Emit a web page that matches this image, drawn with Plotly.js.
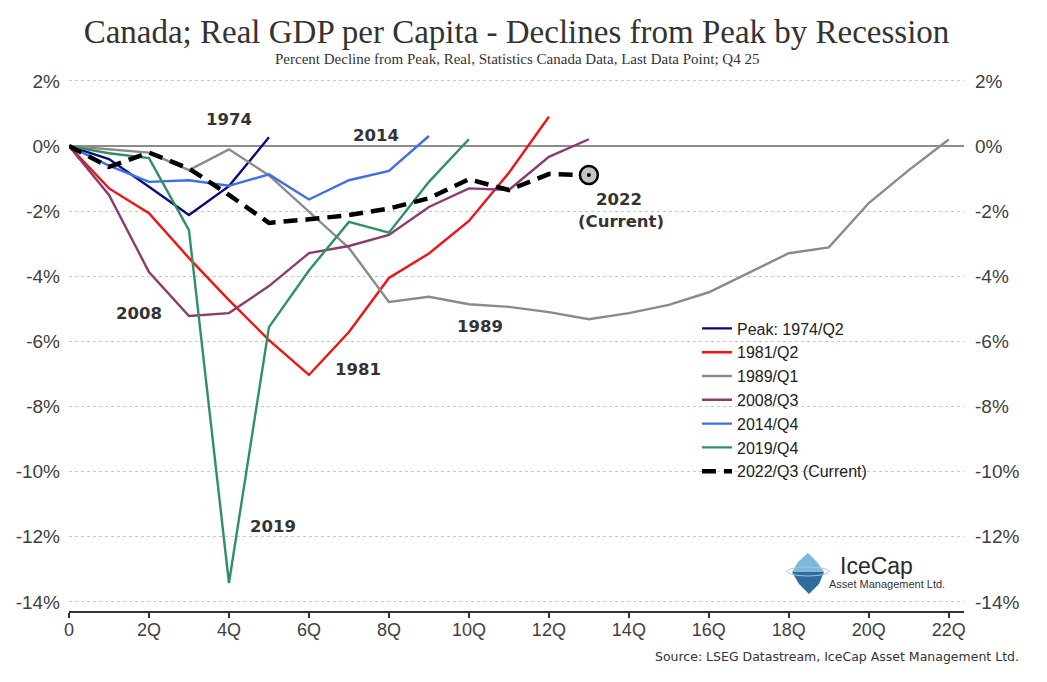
<!DOCTYPE html>
<html><head><meta charset="utf-8">
<script src="https://cdn.plot.ly/plotly-3.0.1.min.js"></script>
<style>html,body{margin:0;padding:0;background:#fff}#chart{width:1047px;height:682px}</style>
</head><body><div id="chart"></div>
<script>
// ---- data (quarters after peak, % decline from peak) ----
const quarters = [0,1,2,3,4,5,6,7,8,9,10,11,12,13,14,15,16,17,18,19,20,21,22];
const xTickVals = [0,2,4,6,8,10,12,14,16,18,20,22];
const xTickText = ['0','2Q','4Q','6Q','8Q','10Q','12Q','14Q','16Q','18Q','20Q','22Q'];
const yTickVals = [2,0,-2,-4,-6,-8,-10,-12,-14];
const yTickText = ['2%','0%','-2%','-4%','-6%','-8%','-10%','-12%','-14%'];

const seriesNames = ['Peak: 1974/Q2','1981/Q2','1989/Q1','2008/Q3','2014/Q4','2019/Q4','2022/Q3 (Current)'];
const s1974 = [0, -0.40, -1.25, -2.12, -1.23, 0.27];
const s1981 = [0, -1.30, -2.06, -3.44, -4.73, -5.96, -7.03, -5.71, -4.05, -3.30, -2.30, -0.82, 0.90];
const s1989 = [0, -0.10, -0.20, -0.74, -0.10, -0.90, -2.00, -3.13, -4.79, -4.63, -4.86, -4.94, -5.10, -5.32, -5.13, -4.88, -4.49, -3.88, -3.29, -3.11, -1.75, -0.74, 0.20];
const s2008 = [0, -1.50, -3.87, -5.22, -5.13, -4.30, -3.29, -3.07, -2.73, -1.87, -1.30, -1.35, -0.33, 0.21];
const s2014 = [0, -0.60, -1.10, -1.05, -1.22, -0.87, -1.64, -1.05, -0.76, 0.31];
const s2019 = [0, -0.22, -0.37, -2.58, -13.42, -5.56, -3.82, -2.33, -2.66, -1.10, 0.21];
const s2022 = [0, -0.64, -0.20, -0.69, -1.50, -2.36, -2.25, -2.12, -1.92, -1.60, -1.02, -1.35, -0.86, -0.89];

const labelText = ['1974','2014','2008','1981','1989','2019','2022','(Current)'];
const labelX    = [4.0, 7.68, 1.75, 7.22, 10.28, 5.1, 13.75, 13.8];
const labelY    = [0.83, 0.34, -5.13, -6.85, -5.53, -11.67, -1.63, -2.33];

// ---- styles ----
const colors = ['#0b0b7c','#f21212','#8a8a8a','#8b3b6f','#3f6fe6','#2f9163','#000000'];
const allSeries = [s1974, s1981, s1989, s2008, s2014, s2019, s2022];

const traces = allSeries.map((s, i) => ({
  type: 'scatter', mode: 'lines',
  x: quarters.slice(0, s.length), y: s,
  name: seriesNames[i],
  line: i === 6 ? {color: colors[i], width: 4.5, dash: '14px,8px'} : {color: colors[i], width: 2.4},
  hoverinfo: 'skip'
}));
const lastIdx = s2022.length - 1;
traces.push({type:'scatter', mode:'markers', x:[quarters[lastIdx]], y:[s2022[lastIdx]], showlegend:false,
  marker:{size:18, color:'#c4c4c4', line:{color:'#000', width:2.5}}, hoverinfo:'skip'});
traces.push({type:'scatter', mode:'markers', x:[quarters[lastIdx]], y:[s2022[lastIdx]], showlegend:false,
  marker:{size:4, color:'#000'}, hoverinfo:'skip'});
traces.push({type:'scatter', mode:'lines', x: quarters.slice(0, s2022.length), y: s2022, yaxis:'y2',
  showlegend:false, opacity:0, line:{width:0}, hoverinfo:'skip'});

// pixel helpers for layout decorations
const L = 69, R = 964, T = 79, B = 611;
const px = v => (v - L) / (R - L);
const py = v => (B - v) / (B - T);

const tickFont = {family:'Liberation Sans, Arial, sans-serif', size:19, color:'#404040'};
const xTickFont = {family:'Liberation Sans, Arial, sans-serif', size:18, color:'#404040'};
const labelFont = {family:'DejaVu Sans, Verdana, sans-serif', size:16.5, color:'#333', weight:'bold'};

const annotations = labelText.map((t, i) => ({
  x: labelX[i], y: labelY[i], xref:'x', yref:'y', text: t, showarrow:false, font: labelFont,
  xanchor:'center', yanchor:'middle'
}));
const paperNote = (x, y, text, font, xanchor) => ({xref:'paper', yref:'paper', x:px(x), y:py(y), text:text,
  showarrow:false, font:font, xanchor:xanchor || 'center', yanchor:'middle'});
annotations.push(paperNote(517, 59, 'Percent Decline from Peak, Real, Statistics Canada Data, Last Data Point; Q4 25',
  {family:'Liberation Serif, serif', size:15, color:'#333'}));
annotations.push(paperNote(1021, 656, 'Source: LSEG Datastream, IceCap Asset Management Ltd.',
  {family:'DejaVu Sans, Verdana, sans-serif', size:12.5, color:'#333'}, 'right'));
annotations.push(paperNote(876, 566, 'IceCap', {family:'Liberation Sans, Arial, sans-serif', size:23, color:'#2a2a2a'}));
annotations.push(paperNote(887, 584, 'Asset Management Ltd.', {family:'Liberation Sans, Arial, sans-serif', size:11, color:'#333'}));

const pth = pts => 'M' + pts.map(p => px(p[0]).toFixed(5) + ',' + py(p[1]).toFixed(5)).join(' L') + ' Z';
const shapes = [
  {type:'path', xref:'paper', yref:'paper', path: pth([[808,553],[817,562],[824,572],[792,572],[798,562]]),
   fillcolor:'#7db7dc', line:{width:0}},
  {type:'path', xref:'paper', yref:'paper', path: pth([[792,572],[824,572],[819,584],[809,594],[799,584]]),
   fillcolor:'#2f6c9c', line:{width:0}},
  {type:'circle', xref:'paper', yref:'paper', x0:px(787), x1:px(829), y0:py(576), y1:py(567),
   line:{color:'#a9c3d8', width:1}}
];

const layout = {
  width:1047, height:682,
  paper_bgcolor:'#fff', plot_bgcolor:'#fff',
  margin:{l:L, r:1047-R, t:T, b:682-B},
  title:{text:'Canada; Real GDP per Capita - Declines from Peak by Recession', x:0.5, xref:'paper',
    y:1-31/682, yref:'container', yanchor:'middle',
    font:{family:'Liberation Serif, Times New Roman, serif', size:33, color:'#333'}},
  showlegend:true,
  legend:{x:px(697), y:py(400), xanchor:'left', yanchor:'middle', bgcolor:'rgba(0,0,0,0)',
    font:{family:'Liberation Sans, Arial, sans-serif', size:16, color:'#222'}},
  xaxis:{range:[0,22.38], tickvals:xTickVals, ticktext:xTickText, ticks:'outside', ticklen:5, tickwidth:1.5,
    tickcolor:'#333', showline:true, linecolor:'#333', linewidth:1.5, showgrid:false, zeroline:false,
    ticklabelstandoff:-3, tickfont:xTickFont, fixedrange:true},
  yaxis:{range:[-14.28,2.06], tickvals:yTickVals, ticktext:yTickText, showgrid:true, gridcolor:'#c8c8c8',
    griddash:'dot', gridwidth:1, zeroline:true, zerolinecolor:'#8c8c8c', zerolinewidth:2, ticks:'',
    ticklabelstandoff:8, showline:false, tickfont:tickFont, fixedrange:true},
  yaxis2:{range:[-14.28,2.06], overlaying:'y', side:'right', tickvals:yTickVals, ticktext:yTickText,
    showgrid:false, zeroline:false, ticks:'', ticklabelstandoff:10, showline:false, tickfont:tickFont, fixedrange:true},
  annotations: annotations,
  shapes: shapes
};

Plotly.newPlot('chart', traces, layout, {displayModeBar:false, staticPlot:true});
</script>
</body></html>
